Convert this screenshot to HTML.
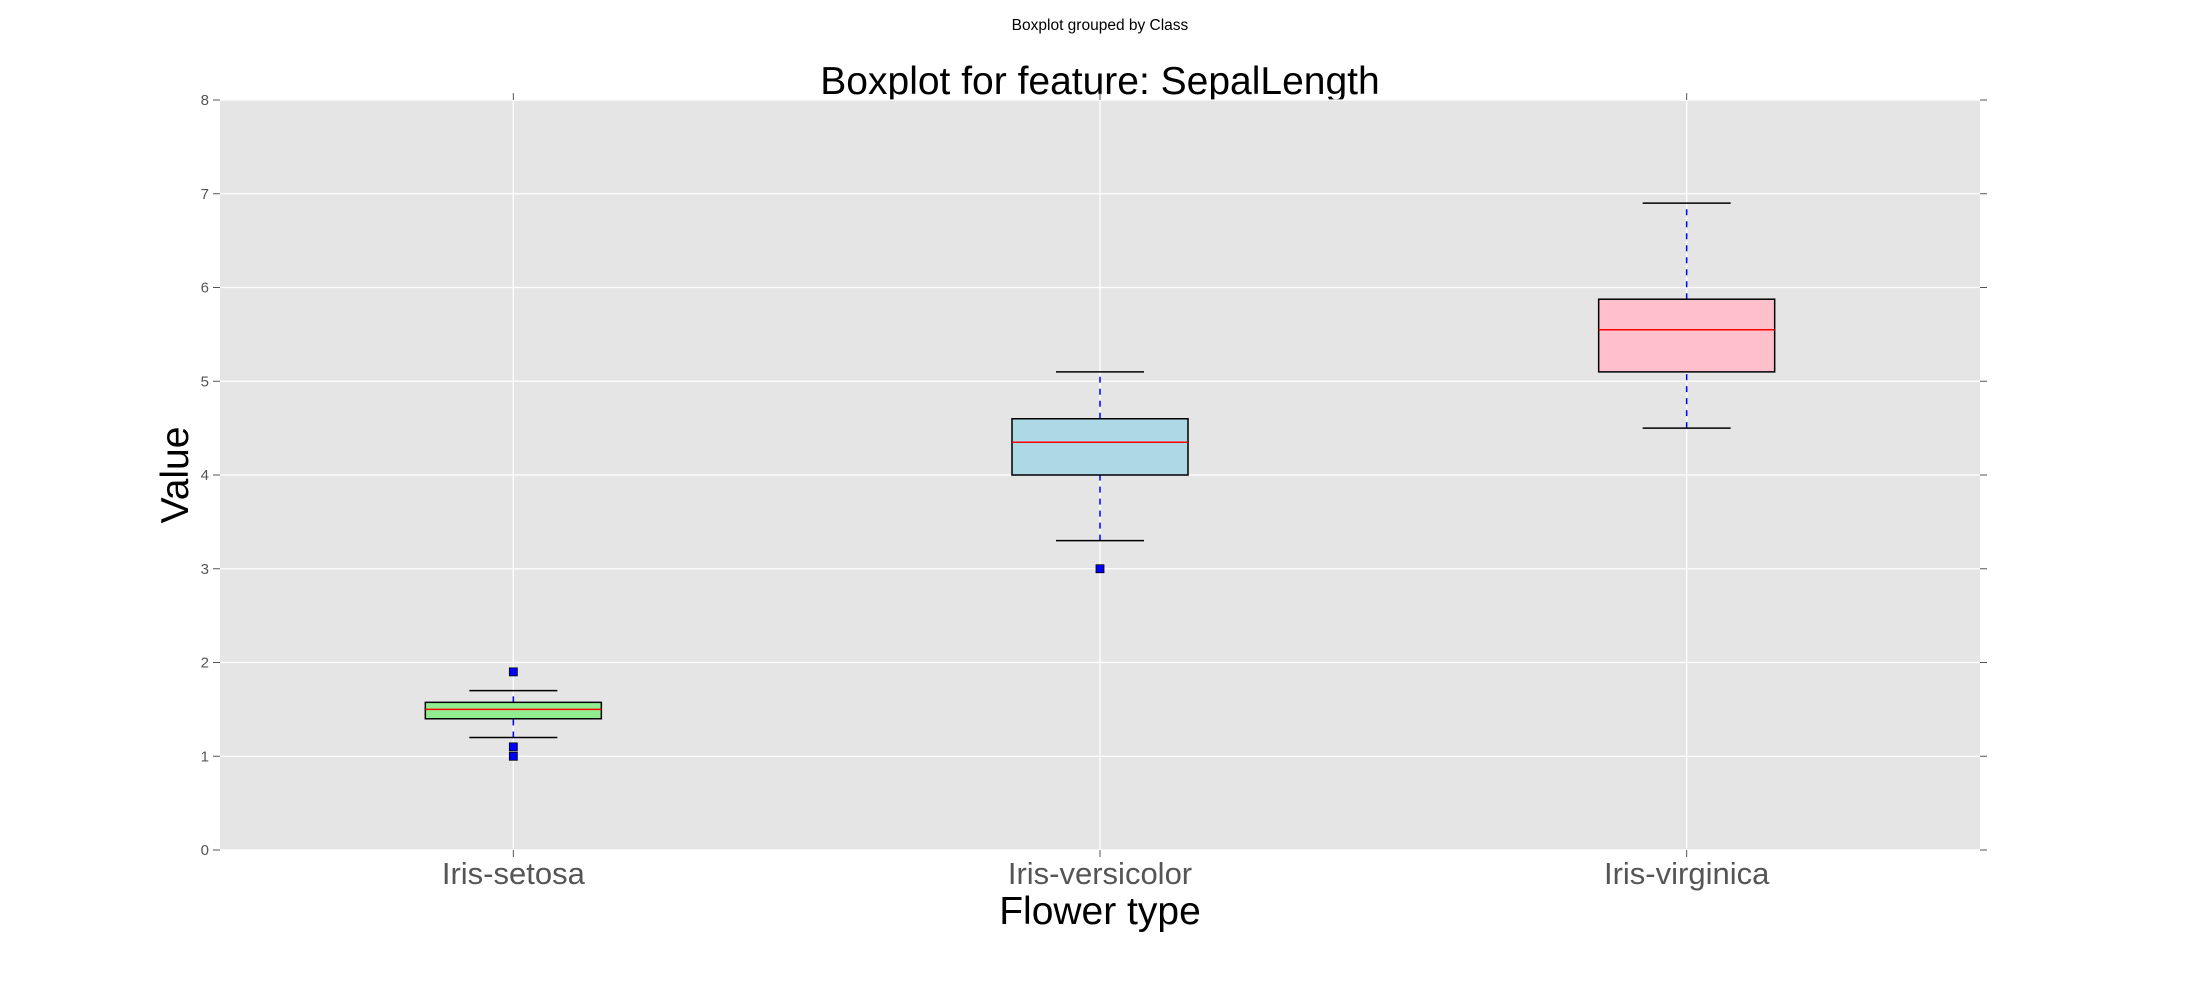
<!DOCTYPE html>
<html><head><meta charset="utf-8"><style>
html,body{margin:0;padding:0;background:#fff}
svg{display:block;font-family:"Liberation Sans","DejaVu Sans",sans-serif}
</style></head><body>
<svg id="chart" width="2200" height="1000" xmlns="http://www.w3.org/2000/svg">
<text x="1100" y="30" font-size="15.5" text-anchor="middle" fill="#000">Boxplot grouped by Class</text>
<text x="1100" y="94" font-size="39" text-anchor="middle" fill="#000">Boxplot for feature: SepalLength</text>
<text x="1100" y="924" font-size="39" text-anchor="middle" fill="#000">Flower type</text>
<text x="0" y="0" font-size="39" text-anchor="middle" fill="#000" transform="translate(188,475) rotate(-90)">Value</text>
<g id="plot"></g>
</svg>
<script>
const categories = ["Iris-setosa", "Iris-versicolor", "Iris-virginica"];
const q1 = [1.4, 4.0, 5.1];
const medians = [1.5, 4.35, 5.55];
const q3 = [1.575, 4.6, 5.875];
const whiskerLow = [1.2, 3.3, 4.5];
const whiskerHigh = [1.7, 5.1, 6.9];
const outliers = [[1.9, 1.0, 1.1], [3.0], []];
const yTicks = [0, 1, 2, 3, 4, 5, 6, 7, 8];
const fills = ["#90ee90", "#add8e6", "#ffc0cb"];

const L = 220, R = 1980, T = 100, B = 850;
const yMin = 0, yMax = 8;
const xs = i => L + (i + 0.5) * (R - L) / categories.length;
const ys = v => B - (v - yMin) / (yMax - yMin) * (B - T);
const unit = (R - L) / categories.length;
const NS = "http://www.w3.org/2000/svg";
const g = document.getElementById("plot");
function mk(tag, attrs, parent) {
  const e = document.createElementNS(NS, tag);
  for (const k in attrs) e.setAttribute(k, attrs[k]);
  (parent || g).appendChild(e);
  return e;
}
const bg = mk("rect", {x: L, y: T, width: R - L, height: B - T, fill: "#e5e5e5"});



yTicks.forEach(t => {
  const y = ys(t);
  const gl = mk("line", {x1: L, x2: R, y1: y, y2: y, stroke: "#fff", "stroke-width": 1.3});
  
  
  const tk = mk("line", {x1: L - 7, x2: L, y1: y, y2: y, stroke: "#555", "stroke-width": 1});
  
  
  const tr = mk("line", {x1: R, x2: R + 7, y1: y, y2: y, stroke: "#555", "stroke-width": 1});
  
  
  const lb = mk("text", {x: L - 11, y: y + 5, "font-size": 15, "text-anchor": "end", fill: "#555"});
  lb.textContent = t;
  
  
});

categories.forEach((c, i) => {
  const x = xs(i);
  const gl = mk("line", {x1: x, x2: x, y1: T, y2: B, stroke: "#fff", "stroke-width": 1.3});
  
  
  const tb = mk("line", {x1: x, x2: x, y1: B, y2: B + 7, stroke: "#555", "stroke-width": 1});
  
  
  const tt = mk("line", {x1: x, x2: x, y1: T - 7, y2: T, stroke: "#555", "stroke-width": 1});
  
  
  const lb = mk("text", {x: x, y: 884, "font-size": 31, "text-anchor": "middle", fill: "#555"});
  lb.textContent = c;
  
  
});

categories.forEach((c, i) => {
  const x = xs(i);
  const bw = unit * 0.3, cw = unit * 0.15;
  const grp = mk("g", {});
  
  
  const w1 = mk("line", {x1: x, x2: x, y1: ys(whiskerLow[i]), y2: ys(q1[i]), stroke: "#0000ff", "stroke-width": 1.5, "stroke-dasharray": "6,6"}, grp);
  
  
  const w2 = mk("line", {x1: x, x2: x, y1: ys(q3[i]), y2: ys(whiskerHigh[i]), stroke: "#0000ff", "stroke-width": 1.5, "stroke-dasharray": "6,6"}, grp);
  
  
  [whiskerLow[i], whiskerHigh[i]].forEach(v => {
    const cap = mk("line", {x1: x - cw / 2, x2: x + cw / 2, y1: ys(v), y2: ys(v), stroke: "#000", "stroke-width": 1.5}, grp);
    
    
  });
  const box = mk("rect", {x: x - bw / 2, y: ys(q3[i]), width: bw, height: ys(q1[i]) - ys(q3[i]), fill: fills[i], stroke: "#000", "stroke-width": 1.5}, grp);
  
  
  const md = mk("line", {x1: x - bw / 2, x2: x + bw / 2, y1: ys(medians[i]), y2: ys(medians[i]), stroke: "#ff0000", "stroke-width": 1.5}, grp);
  
  
  outliers[i].forEach(v => {
    const o = mk("rect", {x: x - 4, y: ys(v) - 4, width: 8, height: 8, fill: "#0000ff", stroke: "#000", "stroke-width": 0.8}, grp);
    
    
  });
});
</script>
</body></html>
